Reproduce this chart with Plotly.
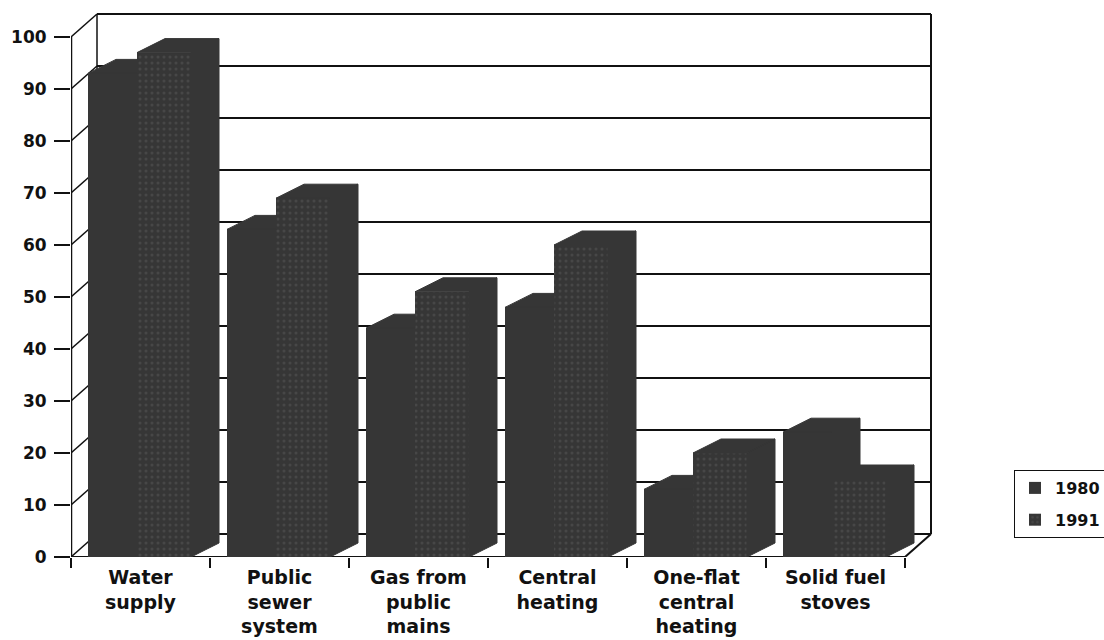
import plotly.graph_objects as go

# Dwelling amenities, share of dwellings (%)
categories = ["Water<br>supply", "Public<br>sewer<br>system", "Gas from<br>public<br>mains",
              "Central<br>heating", "One-flat<br>central<br>heating", "Solid fuel<br>stoves"]
years = ["1980", "1991"]
values_1980 = [93, 63, 44, 48, 13, 24]
values_1991 = [97, 69, 51, 60, 20, 15]
y_ticks = [0, 10, 20, 30, 40, 50, 60, 70, 80, 90, 100]

# ---- geometry of the pseudo-3D box (in axis units) ----
PX_X = 139.0            # pixels per category
PX_Y = 5.2              # pixels per percentage point
WALL_DX = 26 / PX_X     # depth offset of back wall
WALL_DY = 23 / PX_Y
BAR_DX = 28 / PX_X      # depth offset of the bars
BAR_DY = 14 / PX_Y
W80 = 49 / PX_X
W91 = 54 / PX_X
OFF = 17 / PX_X

DARK = "#363636"
INK = "#111111"
FONT = "DejaVu Sans"

n = len(categories)
x_lo = -0.5
x_hi = x_lo + 861 / PX_X
y_hi = 545 / PX_Y

left80 = [i - 0.5 + OFF for i in range(n)]
left91 = [l + W80 for l in left80]

fig = go.Figure()

# front faces
fig.add_trace(go.Bar(
    x=[l + W80 / 2 for l in left80], y=values_1980, width=[W80] * n,
    name=years[0], marker=dict(color=DARK, line=dict(width=0)),
    legendgroup="a", hoverinfo="skip"))
fig.add_trace(go.Bar(
    x=[l + W91 / 2 for l in left91], y=values_1991, width=[W91] * n,
    name=years[1], legendgroup="b", hoverinfo="skip",
    marker=dict(color=DARK, line=dict(width=0),
                pattern=dict(shape=".", fgcolor="#474747", bgcolor=DARK,
                             size=6, solidity=0.2, fillmode="replace"))))

# top and side faces, drawn left to right so nearer faces cover farther ones
px, py = [], []


def poly(pts):
    for a, b in pts + [pts[0]]:
        px.append(a)
        py.append(b)
    px.append(None)
    py.append(None)


for i in range(n):
    xl, w, v, v2 = left80[i], W80, values_1980[i], values_1991[i]
    if v2 >= v:
        poly([(xl, v), (xl + BAR_DX, v + BAR_DY), (xl + w, v + BAR_DY), (xl + w, v)])
    else:
        poly([(xl, v), (xl + BAR_DX, v + BAR_DY), (xl + w + BAR_DX, v + BAR_DY), (xl + w, v)])
        poly([(xl + w, v2), (xl + w, v), (xl + w + BAR_DX, v + BAR_DY), (xl + w + BAR_DX, v2 + BAR_DY)])
    xl, w, v = left91[i], W91, values_1991[i]
    poly([(xl, v), (xl + BAR_DX, v + BAR_DY), (xl + w + BAR_DX, v + BAR_DY), (xl + w, v)])
    poly([(xl + w, 0), (xl + w, v), (xl + w + BAR_DX, v + BAR_DY), (xl + w + BAR_DX, BAR_DY)])

fig.add_trace(go.Scatter(x=px, y=py, mode="lines", fill="toself", fillcolor=DARK,
                         line=dict(color=DARK, width=1), showlegend=False, hoverinfo="skip"))

# walls, floor and gridlines
shapes = []


def seg(x0, y0, x1, y1, w=2):
    shapes.append(dict(type="line", xref="x", yref="y", x0=x0, y0=y0, x1=x1, y1=y1,
                       line=dict(color=INK, width=w), layer="below"))


bx0, bx1 = x_lo + WALL_DX, n - 0.5 + WALL_DX
for t in y_ticks:
    seg(bx0, t + WALL_DY, bx1, t + WALL_DY, 2)
    seg(x_lo, t, bx0, t + WALL_DY, 1.5)
seg(bx0, WALL_DY, bx0, 100 + WALL_DY, 1.5)
seg(bx1, WALL_DY, bx1, 100 + WALL_DY, 2)
seg(x_lo, -2, x_lo, 100, 2.5)
seg(x_lo, 0, n - 0.5, 0, 2)
seg(n - 0.5, 0, bx1, WALL_DY, 2)

fig.update_layout(
    width=1104, height=640,
    margin=dict(l=71, r=172, t=12, b=83, autoexpand=False),
    paper_bgcolor="white", plot_bgcolor="white",
    barmode="overlay", bargap=0,
    shapes=shapes,
    font=dict(family=FONT, color=INK, size=16, weight="bold"),
    showlegend=True,
    legend=dict(x=(1014 - 71) / 861, xanchor="left", y=(557 - 470) / 545, yanchor="top",
                bordercolor=INK, borderwidth=1, bgcolor="white",
                font=dict(family=FONT, size=16, color=INK, weight="bold"),
                traceorder="grouped", tracegroupgap=8),
    xaxis=dict(range=[x_lo, x_hi], tickmode="array", tickvals=list(range(n)),
               ticktext=categories, ticks="", showgrid=False, zeroline=False,
               showline=False, automargin=False,
               tickfont=dict(family=FONT, size=19, color=INK, weight="bold"),
               ticklabelstandoff=7,
               minor=dict(tickmode="array", tickvals=[k - 0.5 for k in range(n + 1)],
                          ticks="outside", ticklen=10, tickwidth=1.5, tickcolor=INK,
                          showgrid=False)),
    yaxis=dict(range=[0, y_hi], tickmode="array", tickvals=y_ticks,
               ticks="outside", ticklen=16, tickwidth=2, tickcolor=INK,
               showgrid=False, zeroline=False, showline=False, automargin=False,
               ticklabelstandoff=4,
               tickfont=dict(family=FONT, size=17, color=INK, weight="bold")),
)

fig.write_html("out.html")
